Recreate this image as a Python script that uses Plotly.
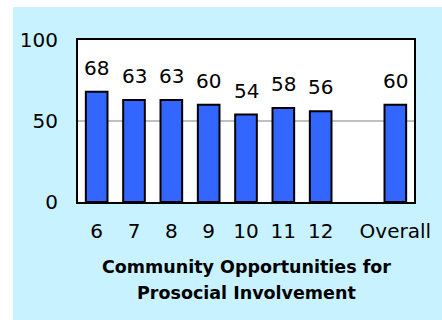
import plotly.graph_objects as go

categories = ["6", "7", "8", "9", "10", "11", "12", "", "Overall"]
values = [68, 63, 63, 60, 54, 58, 56, None, 60]
labels = ["68", "63", "63", "60", "54", "58", "56", "", "60"]
y_ticks = [0, 50, 100]
title_lines = ["Community Opportunities for", "Prosocial Involvement"]

W, H = 442, 320
L, R, T, B = 78, 28, 40, 118
pw, ph = W - L - R, H - T - B

def px_to_paper_x(px):
    return (px - L) / pw

def px_to_paper_y(py):
    return (H - B - py) / ph

xpos = list(range(len(categories)))

fig = go.Figure()
fig.add_trace(go.Bar(
    x=xpos, y=values, width=0.58,
    marker=dict(color="#3366FF", line=dict(color="black", width=2)),
    hoverinfo="skip",
))

for xi, v, t in zip(xpos, values, labels):
    if v is None:
        continue
    fig.add_annotation(x=xi, y=v, text=t, showarrow=False, yanchor="bottom",
                       yshift=10, font=dict(family="DejaVu Sans", size=20, color="black"))

for line_text, cy in zip(title_lines, [267, 293]):
    fig.add_annotation(xref="paper", yref="paper", x=0.5, y=px_to_paper_y(cy),
                       xanchor="center", yanchor="middle", showarrow=False,
                       text="<b>" + line_text + "</b>",
                       font=dict(family="DejaVu Sans", size=17.5, color="black"))

fig.update_layout(
    width=W, height=H,
    margin=dict(l=L, r=R, t=T, b=B, pad=0),
    paper_bgcolor="white",
    plot_bgcolor="rgba(0,0,0,0)",
    showlegend=False,
    font=dict(family="DejaVu Sans", size=20, color="black"),
    shapes=[
        dict(type="rect", xref="paper", yref="paper", layer="below",
             x0=px_to_paper_x(13), x1=px_to_paper_x(442),
             y0=px_to_paper_y(320), y1=px_to_paper_y(7),
             fillcolor="#C8F2FF", line=dict(width=0)),
        dict(type="rect", xref="paper", yref="paper", layer="below",
             x0=0, x1=1, y0=0, y1=1,
             fillcolor="white", line=dict(width=0)),
    ],
)

fig.update_xaxes(
    range=[-0.5, len(categories) - 0.5],
    tickmode="array", tickvals=xpos, ticktext=categories, tickangle=0,
    automargin=False,
    showline=True, linecolor="black", linewidth=2, mirror=True,
    showgrid=False, zeroline=False,
    ticks="", ticklabelstandoff=10,
    tickfont=dict(family="DejaVu Sans", size=20),
)
fig.update_yaxes(
    range=[0, 100], tickvals=y_ticks, automargin=False,
    showline=True, linecolor="black", linewidth=2, mirror=True,
    showgrid=True, gridcolor="#C0C0C0", gridwidth=2,
    zeroline=False, ticks="", ticklabelstandoff=14,
    tickfont=dict(family="DejaVu Sans", size=20),
)

fig.write_html("out.html")
